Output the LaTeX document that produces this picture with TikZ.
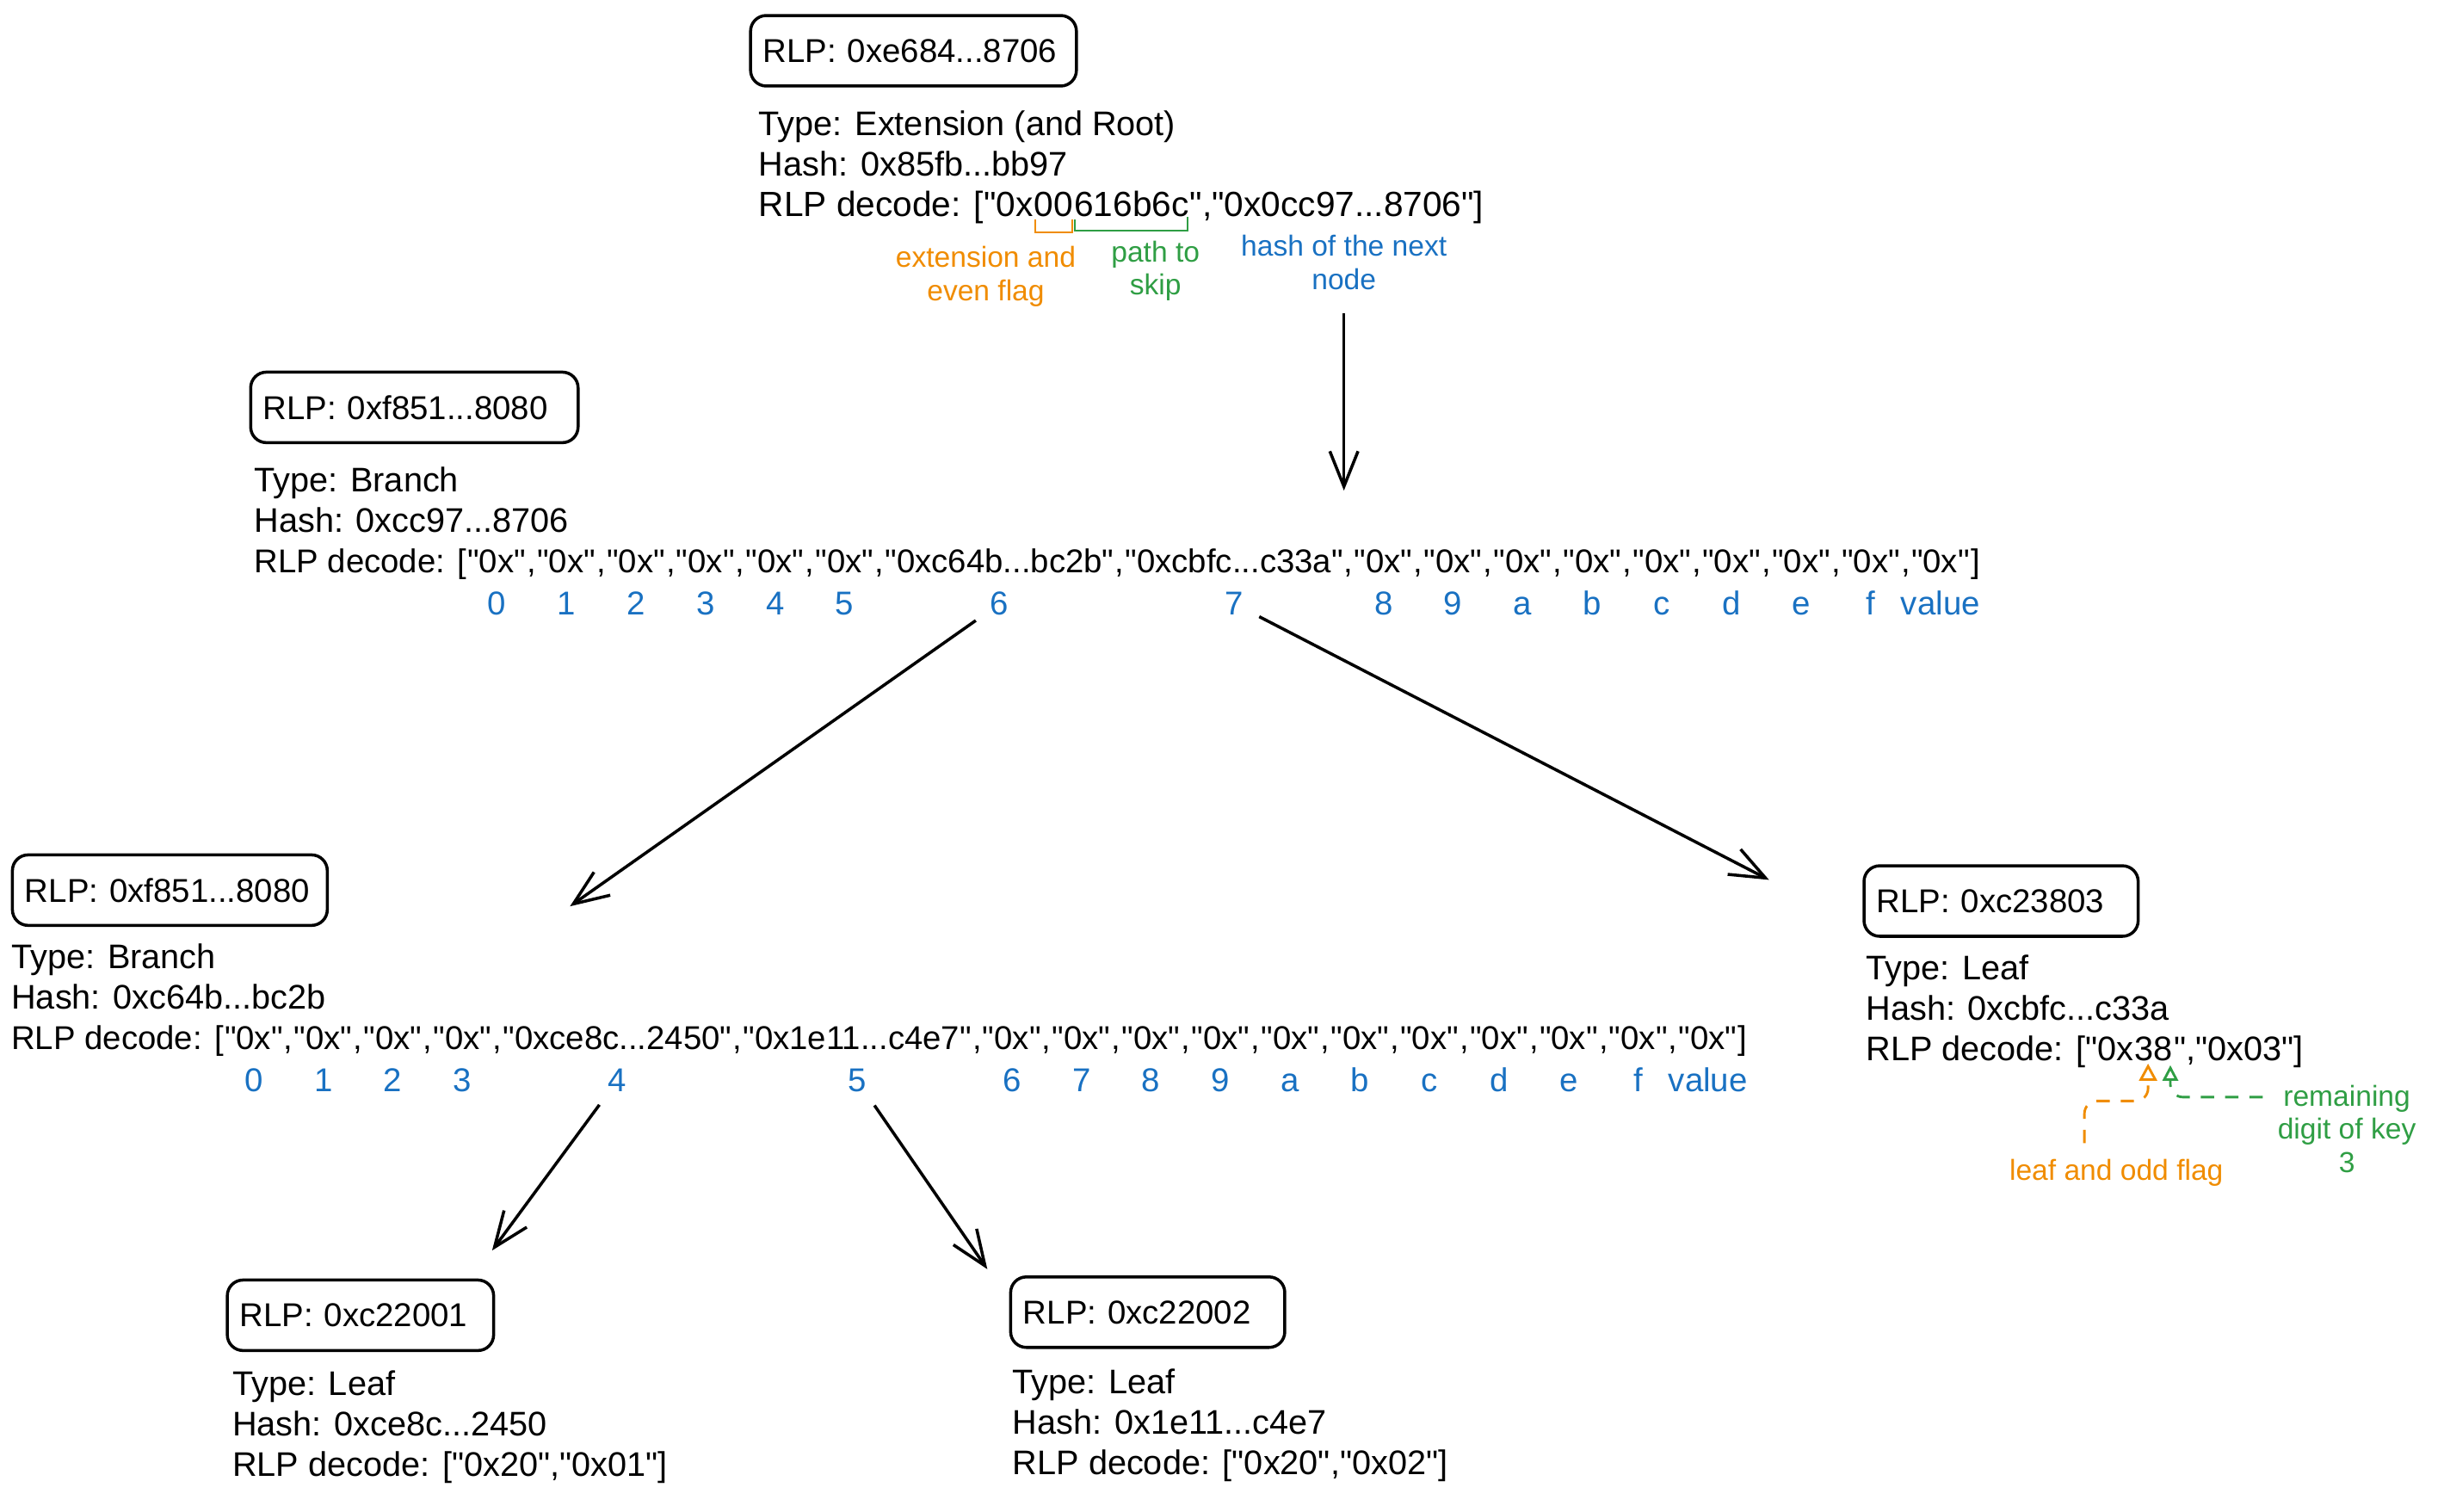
\documentclass[tikz,border=0pt]{standalone}
\usepackage{fontspec}
\setmainfont{Liberation Sans}[Ligatures=TeXOff]
\usetikzlibrary{arrows.meta,calc}
\definecolor{xorange}{HTML}{F08C00}
\definecolor{xgreen}{HTML}{2F9E44}
\definecolor{xblue}{HTML}{1971C2}
\newcommand{\mydots}{...}
\begin{document}
\begin{tikzpicture}[x=0.01988cm,y=-0.01988cm,
  txt/.style={font=\fontsize{12.4}{14.8}\selectfont, inner sep=0pt, anchor=base west},
  dtxt/.style={txt, font=\fontsize{11.98}{14.8}\selectfont},
  ttxt/.style={txt, font=\fontsize{12.7}{14.8}\selectfont},
  rlpbox/.style={draw, line width=1.1pt, rounded corners=0.2cm, minimum height=0.9cm,
    inner xsep=0.16cm, inner ysep=0pt, anchor=north west, align=left, font=\fontsize{12}{14}\selectfont},
  idx/.style={font=\fontsize{12}{14}\selectfont, text=xblue, inner sep=0pt, anchor=base},
  note/.style={font=\fontsize{10.5}{12}\selectfont, align=center, inner sep=1pt},
  arr/.style={line width=1.1pt, -{Straight Barb[length=0.45cm,width=0.36cm]}},
  brk/.style={line width=0.6pt},
  odash/.style={draw=xorange, line width=0.9pt, dash pattern=on 0.17cm off 0.14cm,
    rounded corners=0.16cm, -{Triangle[open,length=0.22cm,width=0.23cm]}},
  gdash/.style={draw=xgreen, line width=0.9pt, dash pattern=on 0.17cm off 0.14cm,
    rounded corners=0.16cm, -{Triangle[open,length=0.2cm,width=0.2cm]}}
]
\useasboundingbox (0,0) rectangle (1569.4,970.4);

% ---------- root extension node ----------
\node[rlpbox, text width=3.84cm] (root) at (481,9) {RLP:~0xe684\mydots 8706};
\node[txt] (rt) at (487,87) {Type: Extension (and Root)};
\node[txt] (rh) at (487,113) {Hash: 0x85fb\mydots bb97};
\node[ttxt] (rd0) at (487,139) {RLP decode: ["0x};
\node[ttxt] (rd1) at (rd0.base east) {00};
\node[ttxt] (rd2) at (rd1.base east) {616b6c};
\node[ttxt] (rd3) at (rd2.base east) {","0x0cc97\mydots 8706"]};
\draw[brk, xorange] ($(rd1.base west)+(1,2)$) -- ++(0,8) -| ($(rd1.base east)+(-1,2)$);
\draw[brk, xgreen] ($(rd2.base west)+(1,2)$) -- ++(0,7) -| ($(rd2.base east)+(-1,0)$);
\node[note, text=xorange] (extlbl) at (633,177.5) {extension and\\even flag};
\node[note, text=xgreen] (pathlbl) at (742,174) {path to\\skip};
\node[note, text=xblue] (hashlbl) at (863,168.5) {hash of the next\\node};

% ---------- branch 1 ----------
\node[rlpbox, text width=3.86cm] (b1box) at (160,238) {RLP:~0xf851\mydots 8080};
\node[txt] (b1t) at (163,316) {Type: Branch};
\node[txt] (b1h) at (163,342) {Hash: 0xcc97\mydots 8706};
\node[dtxt] (b1d) at (163,368) {RLP decode: [};
\xdef\lastnd{b1d}
\foreach \el/\lb [count=\i from 0] in {0x/0,0x/1,0x/2,0x/3,0x/4,0x/5,0xc64b\mydots bc2b/6,0xcbfc\mydots c33a/7,0x/8,0x/9,0x/a,0x/b,0x/c,0x/d,0x/e,0x/f,0x/value} {
  \node[dtxt] (b1e\i) at (\lastnd.base east) {"\el"};
  \node[dtxt] (b1c\i) at (b1e\i.base east) {\ifnum\i<16 ,\else ]\fi};
  \node[idx] (b1l\i) at ($(b1e\i.base)+(0,27)$) {\lb};
  \xdef\lastnd{b1c\i}
}

% ---------- branch 2 ----------
\node[rlpbox, text width=3.70cm] (b2box) at (7,548) {RLP:~0xf851\mydots 8080};
\node[txt] (b2t) at (7,622) {Type: Branch};
\node[txt] (b2h) at (7,648) {Hash: 0xc64b\mydots bc2b};
\node[dtxt] (b2d) at (7,674) {RLP decode: [};
\xdef\lastnd{b2d}
\foreach \el/\lb [count=\i from 0] in {0x/0,0x/1,0x/2,0x/3,0xce8c\mydots 2450/4,0x1e11\mydots c4e7/5,0x/6,0x/7,0x/8,0x/9,0x/a,0x/b,0x/c,0x/d,0x/e,0x/f,0x/value} {
  \node[dtxt] (b2e\i) at (\lastnd.base east) {"\el"};
  \node[dtxt] (b2c\i) at (b2e\i.base east) {\ifnum\i<16 ,\else ]\fi};
  \node[idx] (b2l\i) at ($(b2e\i.base)+(0,27)$) {\lb};
  \xdef\lastnd{b2c\i}
}

% ---------- right leaf ----------
\node[rlpbox, text width=3.18cm] (lrbox) at (1196,555) {RLP:~0xc23803};
\node[txt] (lrt) at (1198,629) {Type: Leaf};
\node[txt] (lrh) at (1198,655) {Hash: 0xcbfc\mydots c33a};
\node[txt] (lrd0) at (1198,681) {RLP decode: ["0x};
\node[txt] (lrd1) at (lrd0.base east) {38};
\node[txt] (lrd2) at (lrd1.base east) {","0x03"]};
\node[note, text=xorange] (leaflbl) at (1359,753) {leaf and odd flag};
\node[note, text=xgreen] (remlbl) at (1507,725) {remaining\\digit of key\\3};
\coordinate (otip) at ($(lrd1.base west)!0.35!(lrd1.base east)+(0,2)$);
\coordinate (gtip) at ($(lrd1.base west)!0.92!(lrd1.base east)+(0,3)$);
\coordinate (os) at (1338.5,734);
\coordinate (gs) at (1453,704.5);
\draw[odash] (os) -- (os |- 0,707) -- (otip |- 0,707) -- (otip);
\draw[gdash] (gs) -- (gtip |- gs) -- (gtip);

% ---------- bottom leaves ----------
\node[rlpbox, text width=3.08cm] (l1box) at (145,821) {RLP:~0xc22001};
\node[txt] (l1t) at (149,896) {Type: Leaf};
\node[txt] (l1h) at (149,922) {Hash: 0xce8c\mydots 2450};
\node[txt] (l1d) at (149,948) {RLP decode: ["0x20","0x01"]};

\node[rlpbox, text width=3.18cm] (l2box) at (648,819) {RLP:~0xc22002};
\node[txt] (l2t) at (650,895) {Type: Leaf};
\node[txt] (l2h) at (650,921) {Hash: 0x1e11\mydots c4e7};
\node[txt] (l2d) at (650,947) {RLP decode: ["0x20","0x02"]};

% ---------- connectors ----------
\coordinate (t1) at (863,315);
\coordinate (t2) at (366,582);
\coordinate (t3) at (1136,565);
\coordinate (t4) at (316,803);
\coordinate (t5) at (634,815);
\draw[arr, shorten <=0.26cm] (hashlbl) -- (t1);
\draw[arr, shorten <=0.22cm] (b1l6) -- (t2);
\draw[arr, shorten <=0.22cm] (b1l7) -- (t3);
\draw[arr, shorten <=0.2cm] (b2l4) -- (t4);
\draw[arr, shorten <=0.2cm] (b2l5) -- (t5);
\end{tikzpicture}
\end{document}
